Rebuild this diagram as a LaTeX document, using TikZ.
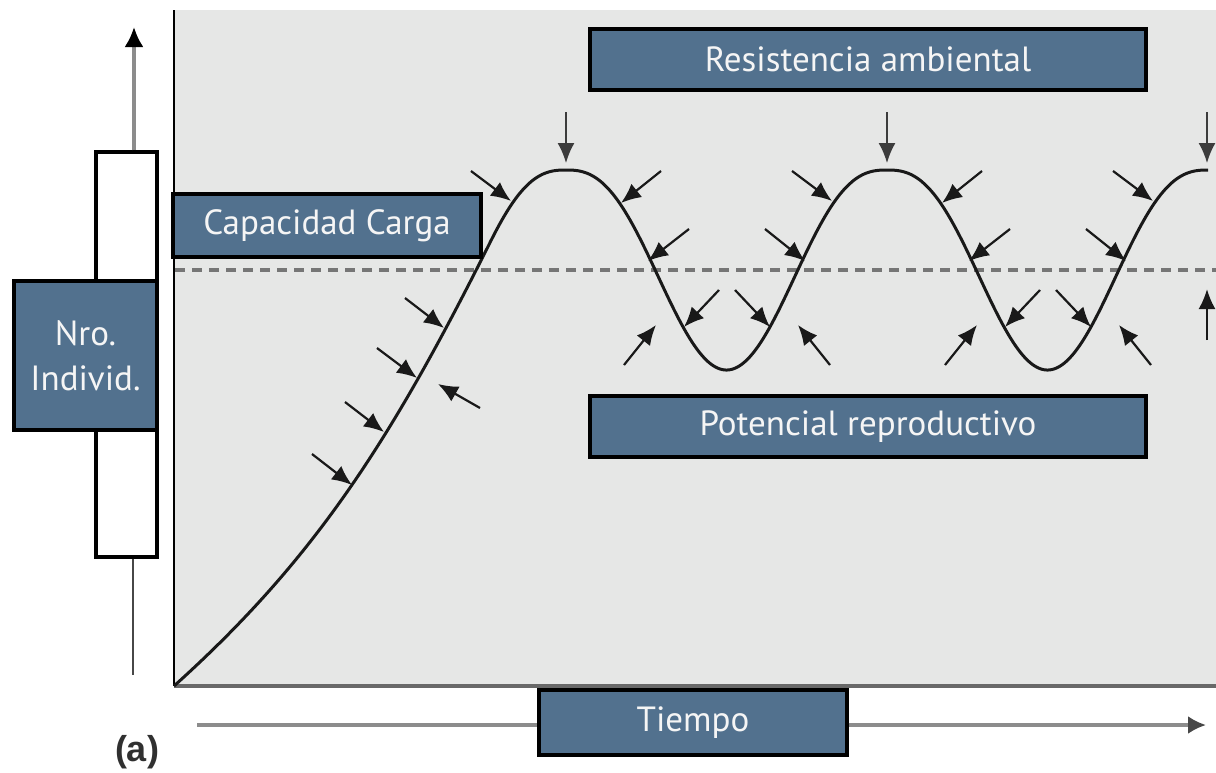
\documentclass[tikz,border=0pt]{standalone}
\usepackage{fontspec}
\setmainfont{PT Sans}
\newfontfamily\labfont{Liberation Sans}
\usetikzlibrary{arrows.meta}
\definecolor{boxblue}{RGB}{82,113,142}
\definecolor{plotgray}{RGB}{230,231,230}
\definecolor{dashgray}{RGB}{118,118,118}
\definecolor{axisgray}{RGB}{140,140,140}
\definecolor{inkblack}{RGB}{25,25,25}
\definecolor{boxtext}{RGB}{245,245,245}
\begin{document}
\begin{tikzpicture}[x=0.5pt,y=-0.5pt,
  declare function={wu(\t)=max(0.0001,(1-cos(1.121495*(\t-566)))/2);
                    wave(\t)=170+200*wu(\t)*exp(0.3*ln(wu(\t)));},
  labelbox/.style={draw=black, line width=1.7pt, fill=boxblue, text=boxtext,
    inner sep=0pt, align=center, font=\fontsize{17.5}{22.5}\selectfont},
  pusharrow/.style={draw=inkblack, line width=1.1pt, -{Latex[length=10pt,width=8.5pt]}},
  droparrow/.style={draw=inkblack!85, line width=0.9pt, -{Latex[length=10pt,width=8.5pt]}},
  axisline/.style={draw=axisgray, line width=1.6pt}]
\useasboundingbox (0,0) rectangle (1216,772);
% plot area
\coordinate (o) at (174,686);
\coordinate (ytop) at (174,10);
\coordinate (xend) at (1216,686);
\fill[plotgray] (ytop) rectangle (xend);
% carrying capacity line
\coordinate (kL) at (175,270);
\coordinate (kR) at (1216,270);
\draw[dashgray, line width=1.6pt, dash pattern=on 5pt off 3.5pt] (kL) -- (kR);
% axes of plot
\draw[black, line width=1.1pt] (ytop) -- (o);
\draw[axisgray!75!black, line width=1.7pt] (o) -- (xend);
% population curve
\coordinate (j) at (490,242.6);
\draw[inkblack, line width=1.5pt] (o) .. controls (314,560) and (390,442.6) .. (j)
  -- plot[domain=490:1208, samples=360] (\x, {wave(\x)});
% pressure arrows
\foreach \n/\sx/\sy/\ex/\ey in {
  g1/312/454/352/485, g2/345/402/384/432, g3/377/348/417/378, g4/405/298/444/328,
  g5/480/408/438/384,
  a1/471/171/511/201, c1/661/171/621/203, d1/689/229/648/261,
  f2/765/229/805/261, a2/792/171/832/201, c2/982/171/942/203, d2/1010/229/969/261,
  f3/1086/229/1126/261, a3/1113/171/1153/201,
  t1/719/290/684/327, t2/735/290/770/327, t3/624/365/656/325, t4/830/365/798/325,
  t5/1040/290/1005/327, t6/1056/290/1091/327, t7/945/365/977/325, t8/1151/365/1119/325,
  u1/1207/340/1207/289}
{
  \coordinate (\n s) at (\sx,\sy);
  \coordinate (\n e) at (\ex,\ey);
  \draw[pusharrow] (\n s) -- (\n e);
}
\foreach \n/\px in {b1/566, b2/887, b3/1207}
{
  \coordinate (\n s) at (\px,112);
  \coordinate (\n e) at (\px,163);
  \draw[droparrow] (\n s) -- (\n e);
}
% labels in the plot
\node[labelbox, minimum width=278pt, minimum height=30.5pt] (resist) at (868,59.5) {Resistencia ambiental};
\node[labelbox, minimum width=278pt, minimum height=30.5pt] (potenc) at (868,426.5) {Potencial reproductivo};
\node[labelbox, minimum width=154pt, minimum height=31.5pt] (capac) at (327,225.5) {Capacidad Carga};
% vertical axis symbol
\node[draw=black, line width=1.7pt, fill=white, minimum width=30.5pt, minimum height=202.5pt, inner sep=0pt] (bar) at (126.5,354.5) {};
\coordinate (ytip) at (134,27);
\coordinate (ylow) at (133,675);
\draw[axisline, -{Latex[length=10pt,width=9.5pt,color=black]}] (ytip |- bar.north) -- (ytip);
\draw[draw=inkblack!80, line width=0.6pt] (ylow |- bar.south) -- (ylow);
\node[labelbox, minimum width=71.5pt, minimum height=74.5pt] (nro) at (85.5,355.5) {Nro.\\Individ.};
% time axis
\node[labelbox, minimum width=154pt, minimum height=32.5pt] (tiempo) at (693,722.5) {Tiempo};
\coordinate (tstart) at (197,725);
\coordinate (tend) at (1206,725);
\draw[axisline] (tstart) -- (tstart -| tiempo.west);
\draw[axisline, -{Latex[length=9pt,width=9pt,color=inkblack!80]}] (tstart -| tiempo.east) -- (tend);
% panel letter
\node[font=\labfont\bfseries\fontsize{18}{20}\selectfont, text=inkblack!90, inner sep=0pt] (panel) at (137,752) {(a)};
\end{tikzpicture}
\end{document}
